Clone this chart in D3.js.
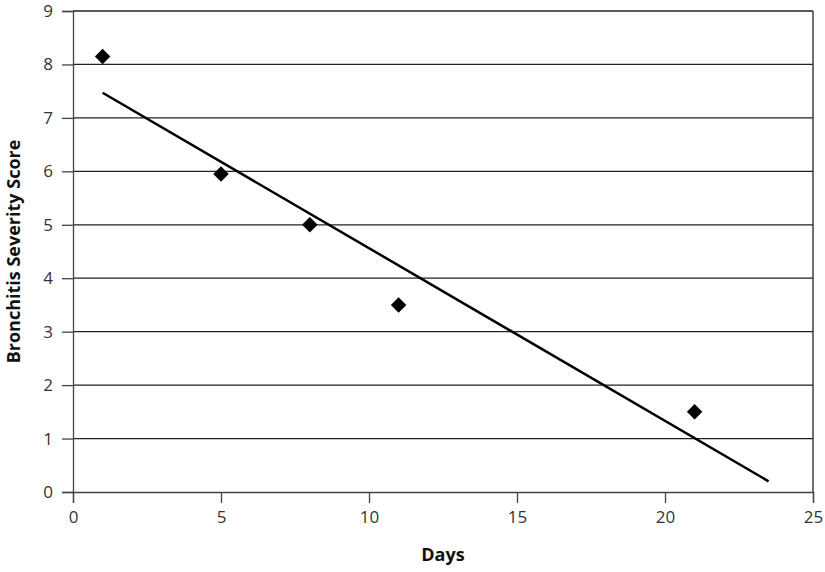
<!DOCTYPE html>
<html>
<head>
<meta charset="utf-8">
<script src="https://cdn.jsdelivr.net/npm/d3@7"></script>
<style>
  body { margin: 0; background: #fff; }
  svg { display: block; font-family: "Open Sans", sans-serif; }
</style>
</head>
<body>
<div id="chart"></div>
<script>
var days = [1, 5, 8, 11, 21];
var scores = [8.15, 5.95, 5.0, 3.5, 1.5];

// trendline endpoints
var trendDays = [1, 23.5];
var trendScores = [7.47, 0.2];

var xTicks = [0, 5, 10, 15, 20, 25];
var yTicks = [0, 1, 2, 3, 4, 5, 6, 7, 8, 9];

var svgWidth = 825;
var svgHeight = 572;

var margin = { top: 11, right: 12, bottom: 80, left: 73 };
var width = svgWidth - margin.left - margin.right;
var height = svgHeight - margin.top - margin.bottom;

var svg = d3
  .select("#chart")
  .append("svg")
  .attr("width", svgWidth)
  .attr("height", svgHeight);

var chartGroup = svg
  .append("g")
  .attr("transform", `translate(${margin.left}, ${margin.top})`);

var xScale = d3.scaleLinear().domain([0, 25]).range([0, width]);
var yScale = d3.scaleLinear().domain([0, 9]).range([height, 0]);

// horizontal gridlines
chartGroup
  .selectAll(".grid")
  .data(yTicks.filter(d => d > 0))
  .enter()
  .append("line")
  .attr("x1", 0)
  .attr("x2", width)
  .attr("y1", d => yScale(d))
  .attr("y2", d => yScale(d))
  .attr("stroke", "#222")
  .attr("stroke-width", 1.3);

// right border
chartGroup
  .append("line")
  .attr("x1", width)
  .attr("x2", width)
  .attr("y1", 0)
  .attr("y2", height)
  .attr("stroke", "#222")
  .attr("stroke-width", 1.3);

var bottomAxis = d3.axisBottom(xScale).tickValues(xTicks).tickSize(11).tickPadding(8);
var leftAxis = d3.axisLeft(yScale).tickValues(yTicks).tickSize(11).tickPadding(9);

var xAxis = chartGroup
  .append("g")
  .attr("transform", `translate(0, ${height})`)
  .call(bottomAxis);

var yAxis = chartGroup.append("g").call(leftAxis);

[xAxis, yAxis].forEach(function(ax) {
  ax.select(".domain").attr("stroke", "#444").attr("stroke-width", 1.3);
  ax.selectAll(".tick line").attr("stroke", "#444").attr("stroke-width", 1.3);
  ax.selectAll(".tick text")
    .attr("fill", "#333")
    .style("font-size", "17px")
    .style("font-family", "'Open Sans', sans-serif");
});

// trendline
var line = d3
  .line()
  .x(d => xScale(d[0]))
  .y(d => yScale(d[1]));

chartGroup
  .append("path")
  .datum(d3.zip(trendDays, trendScores))
  .attr("d", line)
  .attr("fill", "none")
  .attr("stroke", "#000")
  .attr("stroke-width", 2.5);

// diamond markers
var diamond = d3.symbol().type(d3.symbolSquare).size(120);

chartGroup
  .selectAll(".point")
  .data(d3.zip(days, scores))
  .enter()
  .append("path")
  .attr("d", diamond)
  .attr("transform", d => `translate(${xScale(d[0])}, ${yScale(d[1])}) rotate(45)`)
  .attr("fill", "#000");

// axis titles
svg
  .append("text")
  .attr("x", margin.left + width / 2)
  .attr("y", 561)
  .attr("text-anchor", "middle")
  .style("font-size", "18px")
  .style("font-weight", "bold")
  .attr("fill", "#111")
  .text("Days");

svg
  .append("text")
  .attr("transform", `translate(20, ${margin.top + height / 2}) rotate(-90)`)
  .attr("text-anchor", "middle")
  .style("font-size", "18px")
  .style("font-weight", "bold")
  .attr("fill", "#111")
  .text("Bronchitis Severity Score");
</script>
</body>
</html>
